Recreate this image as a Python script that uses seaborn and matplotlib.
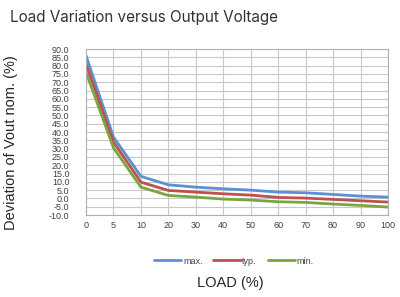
import pandas as pd
import seaborn as sns
import matplotlib.pyplot as plt

# LOAD (%) categories, equally spaced on the axis
load = ['0', '5', '10', '20', '30', '40', '50', '60', '70', '80', '90', '100']
v_max = [86.0, 37.0, 13.3, 8.2, 6.8, 5.8, 5.0, 3.8, 3.4, 2.4, 1.4, 0.8]
v_typ = [81.0, 34.0, 9.8, 4.8, 3.8, 2.8, 2.0, 0.6, 0.2, -0.6, -1.4, -2.2]
v_min = [76.0, 30.5, 6.8, 1.8, 0.8, -0.4, -1.0, -2.0, -2.4, -3.4, -4.2, -5.2]
series = ['max.', 'typ.', 'min.']
colors = ['#5B90D4', '#C0504D', '#7AA540']
y_ticks = list(range(-10, 95, 5))

rows = []
for name, vals in zip(series, [v_max, v_typ, v_min]):
    for i, v in enumerate(vals):
        rows.append({'pos': i, 'dev': v, 'series': name})
df = pd.DataFrame(rows)

sns.set_style('white')
plt.rcParams['font.family'] = ['Liberation Sans', 'DejaVu Sans']

fig = plt.figure(figsize=(4.0, 2.97), dpi=100)
ax = fig.add_axes([0.215, 0.276, 0.755, 0.559])

sns.lineplot(data=df, x='pos', y='dev', hue='series', hue_order=series,
             palette=colors, linewidth=2.0, ax=ax, legend=True)

ax.set_xlim(0, len(load) - 1)
ax.set_ylim(-10, 90)
ax.set_xticks(range(len(load)))
ax.set_xticklabels(load, fontsize=6.5, color='#404040')
ax.set_yticks(y_ticks)
ax.set_yticklabels([f'{t:.1f}' for t in y_ticks], fontsize=6.5, color='#404040')
ax.tick_params(axis='y', length=0, pad=12)
ax.tick_params(axis='x', length=0, pad=4)
ax.grid(True, color='#c8c8c8', linewidth=0.8)
ax.set_axisbelow(True)
for s in ax.spines.values():
    s.set_color('#b0b0b0')
    s.set_linewidth(0.8)

ax.set_xlabel('')
ax.set_ylabel('')
fig.text(0.575, 0.047, 'LOAD (%)', ha='center', va='center', fontsize=10.5, color='#262626')
fig.text(0.028, 0.52, 'Deviation of Vout nom. (%)', rotation=90, ha='center', va='center',
         fontsize=10.5, color='#262626')
fig.text(0.025, 0.94, 'Load Variation versus Output Voltage', ha='left', va='center',
         fontsize=11, color='#333333', family=['Inter', 'DejaVu Sans'])

ax.legend(loc='center', bbox_to_anchor=(0.49, -0.277), ncol=3, frameon=False,
          fontsize=6.5, handlelength=3.0, handletextpad=0.2, columnspacing=1.2,
          labelcolor='#404040')

fig.savefig('out.png', dpi=100)
